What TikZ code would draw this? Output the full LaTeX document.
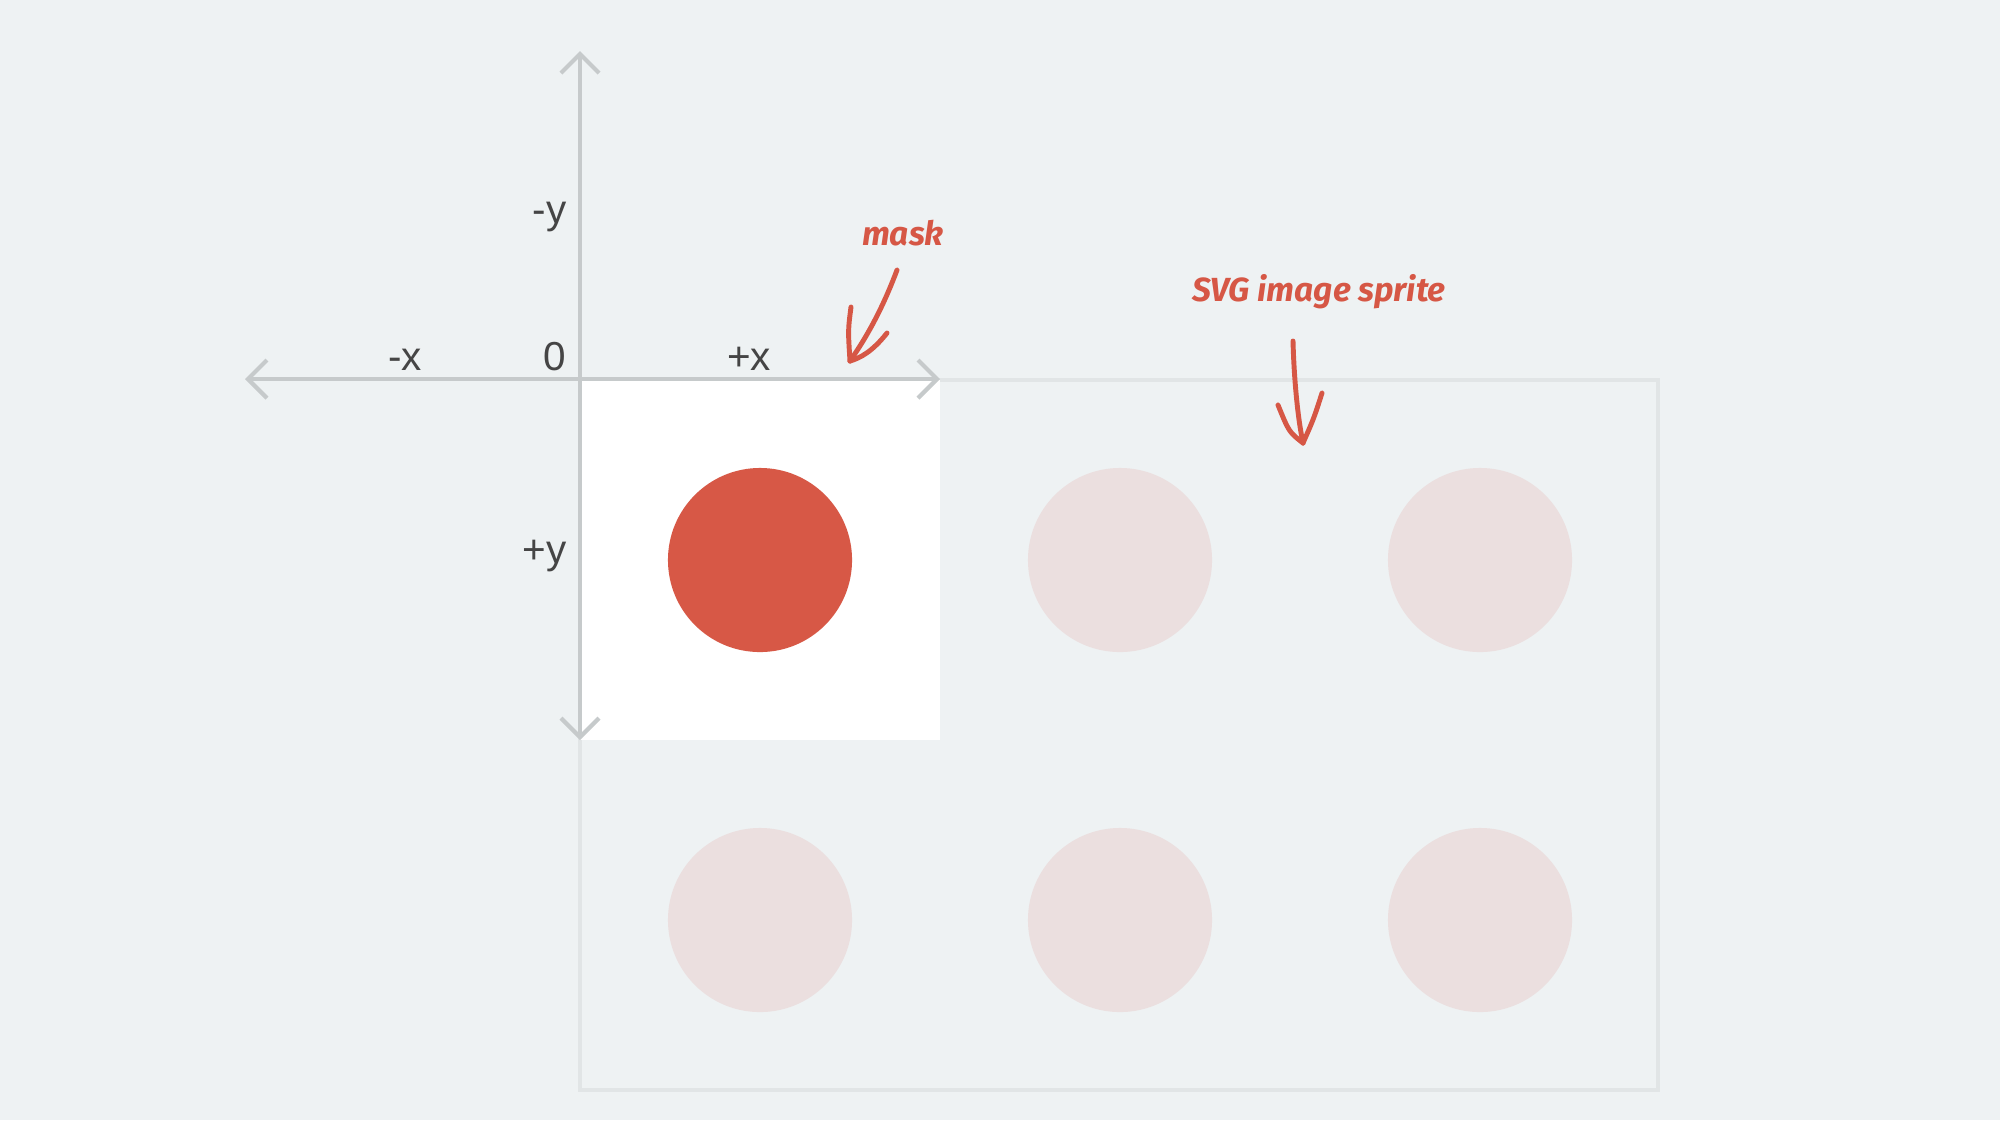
\documentclass[tikz,border=0pt]{standalone}
\usepackage{fontspec}
\setmainfont{Liberation Sans}
\newfontfamily\handfont{Fira Sans}
\usepackage{tikz}
\usetikzlibrary{arrows.meta}
\definecolor{bg}{HTML}{EEF2F3}
\definecolor{axisgray}{HTML}{C6CACB}
\definecolor{framegray}{HTML}{E1E5E6}
\definecolor{dotred}{HTML}{D75846}
\definecolor{dotfaint}{HTML}{EBDFDF}
\definecolor{inkred}{HTML}{D65745}
\definecolor{labelgray}{HTML}{454545}
\tikzstyle{axis} = [draw=axisgray, line width=1.2pt, line cap=round, {Straight Barb[length=0.19cm, width=0.38cm]}-{Straight Barb[length=0.19cm, width=0.38cm]}]
\tikzstyle{tick} = [text=labelgray, font=\fontsize{11.5}{13}\selectfont, inner sep=0pt]
\tikzstyle{dot} = [circle, minimum size=1.84cm, inner sep=0pt, fill=dotfaint]
\tikzstyle{cell} = [rectangle, minimum size=3.6cm, inner sep=0pt]
\tikzstyle{ink} = [draw=inkred, line width=1.4pt, line cap=round, line join=round]
\tikzstyle{note} = [text=inkred, font=\handfont\bfseries\itshape\fontsize{9.5}{11}\selectfont, inner sep=0pt]

\begin{document}
\begin{tikzpicture}[x=0.01cm, y=-0.01cm]
    \useasboundingbox [fill=bg] (0,0) rectangle (2000,1120);
    % sprite sheet
    \draw [framegray, line width=1.15pt] (580,380) rectangle (1658,1090);
    \node (d1) [dot] at (1120,560) {};
    \node (d2) [dot] at (1480,560) {};
    \node (d3) [dot] at (760,920) {};
    \node (d4) [dot] at (1120,920) {};
    \node (d5) [dot] at (1480,920) {};
    % mask window
    \node (m) [cell, fill=white] at (760,560) {};
    \node (d0) [dot, fill=dotred] at (m) {};
    % axes
    \coordinate (xl) at (245,379);
    \coordinate (xr) at (940,379);
    \coordinate (yt) at (580,51);
    \coordinate (yb) at (580,740);
    \draw [axis] (xl) -- (xr);
    \draw [axis] (yt) -- (yb);
    \node [tick, anchor=base] at (405,370) {-x};
    \node [tick, anchor=base east] at (567,370) {0};
    \node [tick, anchor=base] at (749,370) {+x};
    \node [tick, anchor=base east] at (567,223) {-y};
    \node [tick, anchor=base east] at (567,563) {+y};
    % notes
    \node (mask) [note] at (903,233) {mask};
    \node (sprite) [note] at (1319,292) {SVG image sprite};
    \coordinate (ma) at (897,270);
    \coordinate (mb) at (850,361);
    \coordinate (ml) at (851,307);
    \coordinate (mr) at (887,333);
    \draw [ink] (ma) .. controls (882,310) and (866,338) .. (mb);
    \draw [ink] (ml) .. controls (848,330) .. (mb);
    \draw [ink] (mr) .. controls (872,352) and (860,358) .. (mb);
    \coordinate (sa) at (1293,341);
    \coordinate (sb) at (1303,443);
    \coordinate (sl) at (1278,405);
    \coordinate (sr) at (1322,393);
    \draw [ink] (sa) .. controls (1294,380) and (1298,420) .. (sb);
    \draw [ink] (sl) .. controls (1289,432) .. (sb);
    \draw [ink] (sr) .. controls (1314,418) .. (sb);
\end{tikzpicture}
\end{document}
